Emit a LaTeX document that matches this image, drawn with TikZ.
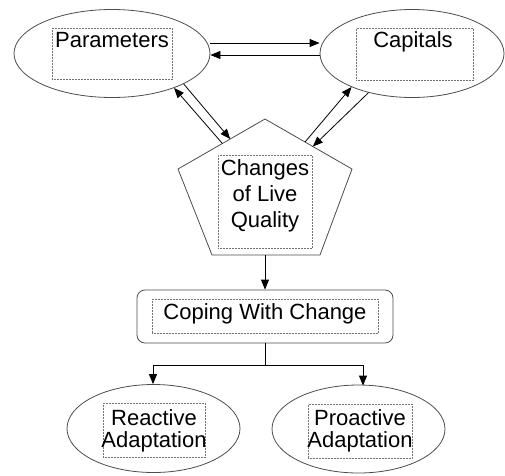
\documentclass[tikz,border=0pt]{standalone}
\usepackage{fontspec}
\setmainfont{Liberation Sans}
\usetikzlibrary{shapes.geometric,arrows.meta,calc}
\begin{document}
\begin{tikzpicture}[x=1pt,y=-1pt,
  shapeline/.style={draw=black!70, line width=0.8pt},
  ell/.style={shapeline, ellipse, inner sep=0pt},
  dotbox/.style={draw=black!55, densely dotted, line width=0.5pt, inner sep=0pt},
  lbl/.style={inner sep=0pt, align=center, font=\fontsize{22}{22}\selectfont},
  arr/.style={-{Triangle[length=10pt,width=8pt]}, line width=0.8pt},
  conn/.style={line width=0.8pt},
]
\useasboundingbox (0,0) rectangle (505,475);

% top ellipses
\node[ell, minimum width=196pt, minimum height=88pt] (par) at (112,53.5) {};
\node[dotbox, minimum width=120pt, minimum height=51pt] (parbox) at (112,53.5) {};
\node[lbl, anchor=base] (partxt) at (112,47) {Parameters};

\node[ell, minimum width=184pt, minimum height=88pt] (cap) at (412,53.5) {};
\node[dotbox, minimum width=117pt, minimum height=52pt] (capbox) at (414.5,54) {};
\node[lbl, anchor=base] (captxt) at (413,47) {Capitals};

% pentagon
\coordinate (pt) at (265,119);
\coordinate (pl) at (178,169);
\coordinate (pr) at (352,169);
\coordinate (pbl) at (212,255);
\coordinate (pbr) at (320,255);
\coordinate (pbot) at (265,255);
\draw[shapeline] (pt) -- (pr) -- (pbr) -- (pbl) -- (pl) -- cycle;
\node[dotbox, minimum width=94pt, minimum height=93pt] (chgbox) at (265,201.5) {};
\node[lbl, font=\fontsize{22}{26}\selectfont] (chgtxt) at (265,195.5) {Changes\\of Live\\Quality};

% coping box
\node[shapeline, rounded corners=8pt, minimum width=256pt, minimum height=53pt, inner sep=0pt] (cope) at (265,316.5) {};
\node[dotbox, minimum width=226pt, minimum height=34pt] (copebox) at (265,316) {};
\node[lbl, anchor=base] (copetxt) at (265,319) {Coping With Change};

% bottom ellipses
\node[ell, minimum width=173pt, minimum height=88pt] (rea) at (153.5,428.5) {};
\node[dotbox, minimum width=102pt, minimum height=54pt] (reabox) at (154,430) {};
\node[lbl, anchor=base] (reatxt1) at (154,425) {Reactive};
\node[lbl, anchor=base] (reatxt2) at (154,447) {Adaptation};

\node[ell, minimum width=173pt, minimum height=88pt] (pro) at (358.5,429) {};
\node[dotbox, minimum width=104pt, minimum height=54pt] (probox) at (360,431) {};
\node[lbl, anchor=base] (protxt1) at (360,425) {Proactive};
\node[lbl, anchor=base] (protxt2) at (360,447) {Adaptation};

% arrows between top ellipses
\draw[arr] ([yshift=10.5pt]par.east) -- ([yshift=10.5pt]cap.west);
\draw[arr] ([yshift=-1.5pt]cap.west) -- ([yshift=-1.5pt]par.east);

% arrows between Parameters and pentagon
\draw[arr] (par.-23) -- ($(pl)!0.6!(pt)$);
\draw[arr] ($(pl)!0.51!(pt)$) -- (par.-29);

% arrows between Capitals and pentagon
\draw[arr] ($(pt)!0.46!(pr)$) -- (cap.209);
\draw[arr] (cap.222) -- ($(pt)!0.55!(pr)$);

% pentagon to coping
\draw[arr] (pbot) -- (cope.north);

% coping to adaptations
\coordinate (jl) at (153,365);
\coordinate (jr) at (363,365);
\draw[conn] (cope.south) -- (cope.south |- jl);
\draw[conn] (jl) -- (jr);
\draw[arr] (jl) -- (jl |- rea.north);
\draw[arr] (jr) -- ($(jr |- pro.north)+(0,1)$);
\end{tikzpicture}
\end{document}
